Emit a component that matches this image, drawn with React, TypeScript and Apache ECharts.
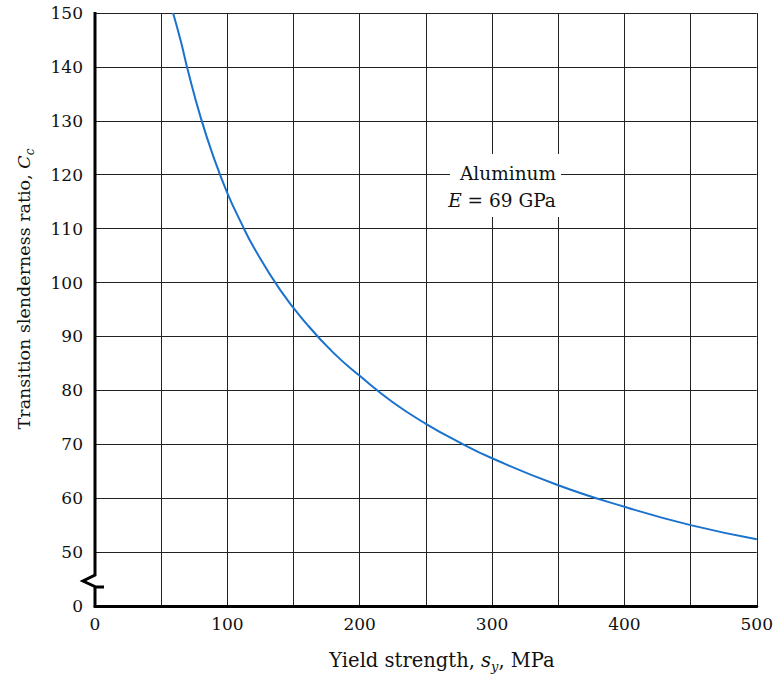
import React, { useEffect, useRef } from "react";
import * as echarts from "echarts";

// Yield strength (MPa) and transition slenderness ratio
const yieldStrength = [59, 65, 70, 80, 90, 100, 110, 120, 140, 160, 180, 200, 225, 250, 275, 300, 350, 400, 450, 500];
const slenderness = [150, 144.6, 139.5, 130.5, 123.0, 116.6, 111.3, 106.5, 98.6, 92.3, 87.0, 82.7, 77.8, 73.8, 70.4, 67.4, 62.4, 58.4, 55.0, 52.4];

const xTicks = [0, 100, 200, 300, 400, 500];
const yBreakValue = 40; // axis position that is labelled "0" (broken axis)

const FONT = "DejaVu Serif";

export default function App() {
  const ref = useRef<HTMLDivElement>(null);
  useEffect(() => {
    if (!ref.current) return;
    const chart = echarts.init(ref.current, undefined, { renderer: "svg" });
    const L = 95, T = 13, R = 760, B = 606;
    const data = yieldStrength.map((x, i) => [x, slenderness[i]]);
    chart.setOption({
      animation: false,
      backgroundColor: "#fff",
      grid: { left: L, top: T, right: 776 - R, bottom: 676 - B, containLabel: false },
      xAxis: {
        type: "value",
        min: 0,
        max: 500,
        interval: 50,
        axisLine: { show: true, lineStyle: { color: "#000", width: 3 } },
        axisTick: { show: false },
        axisLabel: {
          formatter: (v: number) => (xTicks.indexOf(v) >= 0 ? String(v) : ""),
          color: "#111",
          fontFamily: FONT,
          fontSize: 17,
          margin: 9,
        },
        splitLine: { show: true, showMinLine: false, lineStyle: { color: "#222", width: 1 } },
      },
      yAxis: {
        type: "value",
        min: 40,
        max: 150,
        interval: 10,
        axisLine: { show: false },
        axisTick: { show: false },
        axisLabel: {
          formatter: (v: number) => (v === yBreakValue ? "0" : String(v)),
          color: "#111",
          fontFamily: FONT,
          fontSize: 17,
          margin: 12,
        },
        splitLine: { show: true, showMinLine: false, lineStyle: { color: "#222", width: 1 } },
      },
      series: [
        {
          type: "line",
          data,
          smooth: true,
          showSymbol: false,
          clip: true,
          lineStyle: { color: "#1a72cc", width: 2 },
        },
      ],
      graphic: [
        {
          type: "polyline",
          z: 50,
          shape: { points: [[L, T - 1], [L, 575], [83, 581], [96, 587], [104, 587]] },
          style: { stroke: "#000", lineWidth: 3, fill: null },
        },
        {
          type: "line",
          z: 50,
          shape: { x1: L, y1: 587, x2: L, y2: B + 1.5 },
          style: { stroke: "#000", lineWidth: 3 },
        },
        {
          type: "rect",
          z: 50,
          shape: { x: 450, y: 154, width: 111, height: 63 },
          style: { fill: "#fff" },
        },
        {
          type: "text",
          z: 51,
          x: 508,
          y: 173,
          style: {
            text: "Aluminum",
            fontFamily: FONT,
            fontSize: 18.5,
            fill: "#111",
            align: "center",
            verticalAlign: "middle",
          },
        },
        {
          type: "text",
          z: 51,
          x: 502,
          y: 200,
          style: {
            text: "{i|E}{n| = 69 GPa}",
            align: "center",
            verticalAlign: "middle",
            rich: {
              i: { fontFamily: FONT, fontSize: 18.5, fontStyle: "italic", fill: "#111" },
              n: { fontFamily: FONT, fontSize: 18.5, fill: "#111" },
            },
          },
        },
        {
          type: "text",
          z: 51,
          x: 442,
          y: 660,
          style: {
            text: "{n|Yield strength, }{i|s}{s|y}{n|, MPa}",
            align: "center",
            verticalAlign: "middle",
            rich: {
              n: { fontFamily: FONT, fontSize: 19.5, fill: "#111", lineHeight: 26 },
              i: { fontFamily: FONT, fontSize: 19.5, fontStyle: "italic", fill: "#111", lineHeight: 26 },
              s: { fontFamily: FONT, fontSize: 13, fontStyle: "italic", fill: "#111", lineHeight: 15, verticalAlign: "bottom" },
            },
          },
        },
        {
          type: "text",
          z: 51,
          x: 24,
          y: 289,
          rotation: Math.PI / 2,
          style: {
            text: "{n|Transition slenderness ratio, }{i|C}{s|c}",
            align: "center",
            verticalAlign: "middle",
            rich: {
              n: { fontFamily: FONT, fontSize: 17.5, fill: "#111", lineHeight: 24 },
              i: { fontFamily: FONT, fontSize: 17.5, fontStyle: "italic", fill: "#111", lineHeight: 24 },
              s: { fontFamily: FONT, fontSize: 12, fontStyle: "italic", fill: "#111", lineHeight: 14, verticalAlign: "bottom" },
            },
          },
        },
      ],
    });
    return () => chart.dispose();
  }, []);
  return <div ref={ref} style={{ position: "fixed", left: 0, top: 0, width: 776, height: 676 }} />;
}
